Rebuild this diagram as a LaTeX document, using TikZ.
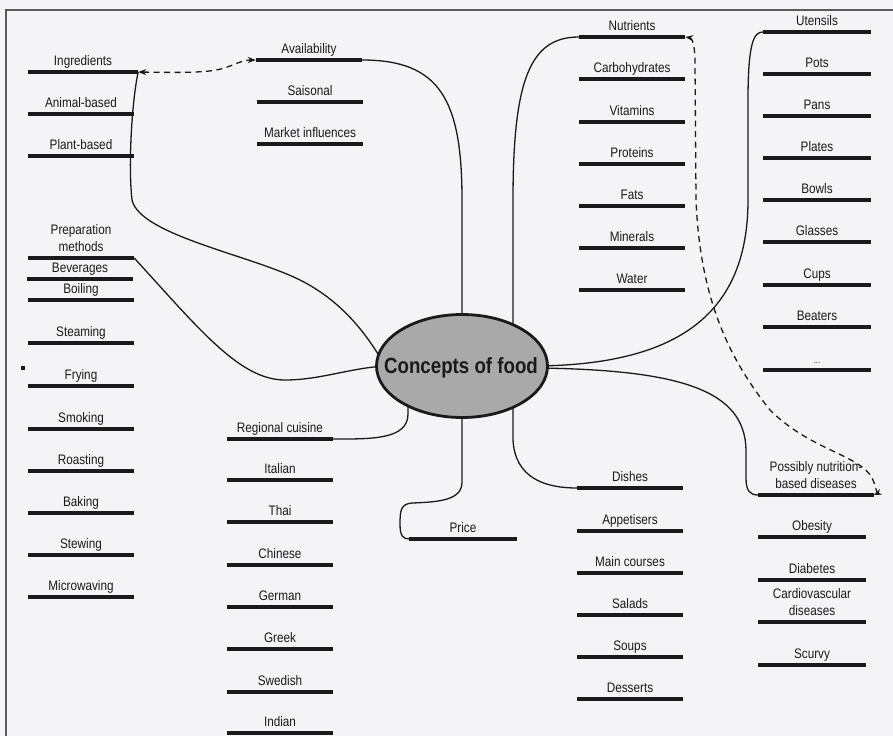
\documentclass[tikz,border=0pt]{standalone}
\usepackage{fontspec}
\setmainfont{Liberation Sans}[FakeStretch=0.85]
\usetikzlibrary{arrows.meta,calc,shapes.geometric}
\pgfdeclarelayer{paperlayer}
\pgfdeclarelayer{linklayer}
\pgfsetlayers{paperlayer,linklayer,main}
\definecolor{papercol}{HTML}{F4F4F6}
\definecolor{ink}{HTML}{1A1A1A}
\definecolor{hubfill}{HTML}{A9A9A9}
\definecolor{framecol}{HTML}{5A5A5A}
\newcommand\lblfont{\fontsize{13.8}{17}\selectfont}
\begin{document}
\begin{tikzpicture}[x=1pt,y=-1pt,
  barline/.style={line width=3.4pt,draw=ink},
  lbl/.style={font=\lblfont,text=ink,anchor=south,inner xsep=0pt,inner ysep=6.5pt,
    text depth=0pt,minimum width=106pt,align=center,
    append after command={(\tikzlastnode.south west) edge[barline] (\tikzlastnode.south east)}},
  hub/.style={ellipse,draw=ink,line width=2.8pt,fill=hubfill,minimum width=171pt,
    minimum height=103pt,inner sep=0pt},
  hubtext/.style={inner sep=0pt,font=\fontsize{22}{24}\selectfont\bfseries,text=ink},
  link/.style={line width=1.3pt,draw=ink},
  dlink/.style={link,dash pattern=on 6pt off 4.5pt,>={Stealth[length=8pt,width=6pt]},<->}]
\useasboundingbox (0,0) rectangle (893,736);

% paper and frame
\begin{pgfonlayer}{paperlayer}
  \fill[papercol] (0,0) rectangle (893,736);
  \draw[framecol,line width=1.2pt] (6,736) -- (6,10) -- (893,10);
  \fill[ink] (21,366) rectangle (25,370);
\end{pgfonlayer}

% central topic
\node[hub] (c) at (462,366) {};
\node[hubtext] (ctext) at ($(c.center)+(-1,2)$) {Concepts of food};

% ingredients
\node[lbl,minimum width=110pt] (ing) at (83,72) {Ingredients};
\node[lbl] (anim) at (81,114) {Animal-based};
\node[lbl] (plant) at (81,156) {Plant-based};

% preparation methods
\node[lbl] (prep) at (81,258) {Preparation\\methods};
\node[lbl] (bev) at (80,279) {Beverages};
\node[lbl] (boil) at (81,300) {Boiling};
\node[lbl] (steam) at (81,343) {Steaming};
\node[lbl] (fry) at (81,386) {Frying};
\node[lbl] (smoke) at (81,429) {Smoking};
\node[lbl] (roast) at (81,471) {Roasting};
\node[lbl] (bake) at (81,513) {Baking};
\node[lbl] (stew) at (81,555) {Stewing};
\node[lbl] (micro) at (81,597) {Microwaving};

% availability
\node[lbl] (avail) at (309,60) {Availability};
\node[lbl] (sais) at (310,102) {Saisonal};
\node[lbl] (market) at (310,144) {Market influences};

% regional cuisine
\node[lbl] (reg) at (280,439) {Regional cuisine};
\node[lbl] (ital) at (280,480) {Italian};
\node[lbl] (thai) at (280,522) {Thai};
\node[lbl] (chin) at (280,565) {Chinese};
\node[lbl] (germ) at (280,607) {German};
\node[lbl] (greek) at (280,649) {Greek};
\node[lbl] (swed) at (280,692) {Swedish};
\node[lbl] (ind) at (280,733) {Indian};

% price
\node[lbl,minimum width=107pt] (price) at (463,539) {Price};

% nutrients
\node[lbl] (nutr) at (632,37) {Nutrients};
\node[lbl] (carb) at (632,79) {Carbohydrates};
\node[lbl] (vit) at (632,122) {Vitamins};
\node[lbl] (prot) at (632,164) {Proteins};
\node[lbl] (fats) at (632,206) {Fats};
\node[lbl] (mine) at (632,248) {Minerals};
\node[lbl] (water) at (632,290) {Water};

% utensils
\node[lbl,minimum width=108pt] (uten) at (817,32) {Utensils};
\node[lbl,minimum width=108pt] (pots) at (817,74) {Pots};
\node[lbl,minimum width=108pt] (pans) at (817,116) {Pans};
\node[lbl,minimum width=108pt] (plates) at (817,158) {Plates};
\node[lbl,minimum width=108pt] (bowls) at (817,200) {Bowls};
\node[lbl,minimum width=108pt] (glass) at (817,242) {Glasses};
\node[lbl,minimum width=108pt] (cups) at (817,285) {Cups};
\node[lbl,minimum width=108pt] (beat) at (817,327) {Beaters};
\node[lbl,minimum width=108pt,font=\fontsize{9}{10}\selectfont] (more) at (817,370) {...};

% dishes
\node[lbl] (dish) at (630,488) {Dishes};
\node[lbl] (appe) at (630,531) {Appetisers};
\node[lbl] (mainc) at (630,573) {Main courses};
\node[lbl] (sal) at (630,615) {Salads};
\node[lbl] (soup) at (630,657) {Soups};
\node[lbl] (dess) at (630,699) {Desserts};

% nutrition-based diseases
\node[lbl,minimum width=115pt] (dis) at (816,495) {Possibly nutrition-\\based diseases};
\node[lbl,minimum width=108pt] (obes) at (812,537) {Obesity};
\node[lbl,minimum width=108pt] (diab) at (812,580) {Diabetes};
\node[lbl,minimum width=108pt] (card) at (812,622) {Cardiovascular\\diseases};
\node[lbl,minimum width=108pt] (scur) at (812,665) {Scurvy};

% connectors
\begin{pgfonlayer}{linklayer}
  % to availability
  \draw[link] (avail.south east) .. controls (440,60) and (462,100) .. (462,200)
    -- ($(c.north)+(0,10)$);
  % to ingredients
  \draw[link] (ing.south east) .. controls (132,100) and (128,165) .. (132,200)
    .. controls (140,235) and (250,255) .. (300,280)
    .. controls (340,300) and (366,332) .. ($(c.west)+(10,0)$);
  % to preparation methods
  \draw[link] (prep.south east) .. controls (200,330) and (240,380) .. (285,380)
    .. controls (320,380) and (350,368) .. ($(c.west)+(10,0)$);
  % to nutrients
  \draw[link] ($(c.center)+(51,-20)$) -- (513,200)
    .. controls (513,80) and (530,37) .. (nutr.south west);
  % to utensils
  \draw[link] ($(c.east)+(-10,0)$) .. controls (670,364) and (748,320) .. (748,200)
    -- (748,100) .. controls (748,42) and (754,32) .. (uten.south west);
  % to nutrition-based diseases
  \draw[link] ($(c.east)+(-10,2)$) .. controls (680,370) and (745,390) .. (746,450)
    -- (746,478) .. controls (746,491) and (750,495) .. (dis.south west);
  % to dishes
  \draw[link] ($(c.center)+(51,20)$) -- (513,440)
    .. controls (515,478) and (545,488) .. (dish.south west);
  % to price
  \draw[link] ($(c.south)+(0,-8)$) -- (462,482)
    .. controls (462,500) and (440,502) .. (412,503)
    .. controls (401,504) and (400,510) .. (400,524)
    .. controls (400,536) and (403,539) .. (price.south west);
  % to regional cuisine
  \draw[link] ($(c.center)+(-54,20)$) -- (408,414)
    .. controls (408,440) and (370,439) .. (reg.south east);
  % dashed cross-links
  \draw[dlink] (ing.south east) .. controls (200,73) and (215,72) .. (230,66)
    .. controls (240,62) and (245,60) .. (avail.south west);
  \draw[dlink] (nutr.south east) .. controls (692,38) and (695,45) .. (695,62)
    -- (696,200) .. controls (700,300) and (730,360) .. (770,410)
    .. controls (810,450) and (860,455) .. (872,478)
    .. controls (877,488) and (876,494) .. (dis.south east);
\end{pgfonlayer}
\end{tikzpicture}
\end{document}
